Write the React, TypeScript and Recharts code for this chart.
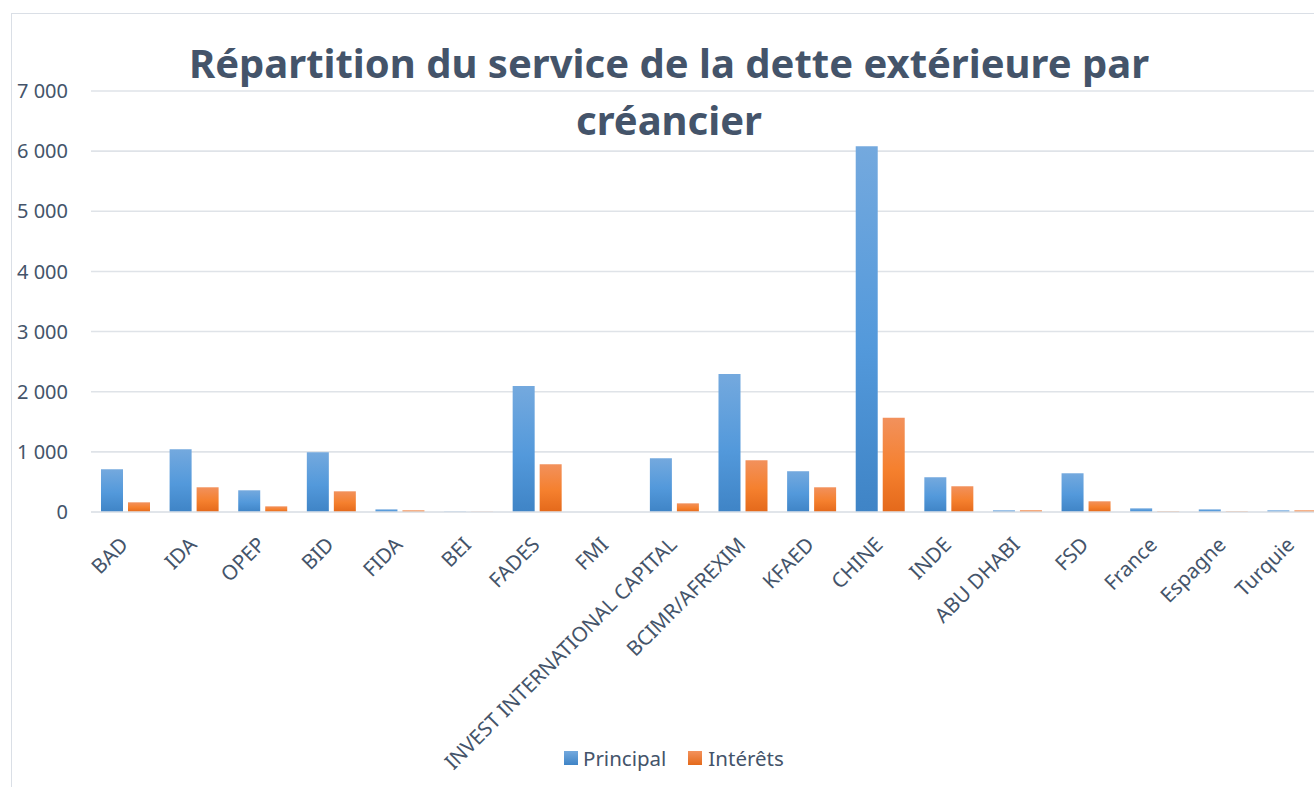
import React from "react";
import {
  BarChart,
  Bar,
  XAxis,
  YAxis,
  CartesianGrid,
  Legend,
} from "recharts";

const categories = [
  "BAD",
  "IDA",
  "OPEP",
  "BID",
  "FIDA",
  "BEI",
  "FADES",
  "FMI",
  "INVEST INTERNATIONAL CAPITAL",
  "BCIMR/AFREXIM",
  "KFAED",
  "CHINE",
  "INDE",
  "ABU DHABI",
  "FSD",
  "France",
  "Espagne",
  "Turquie",
];
const principal = [711, 1044, 361, 994, 44, 8, 2094, 0, 894, 2295, 678, 6080, 578, 28, 644, 61, 44, 28];
const interets = [161, 411, 94, 344, 28, 5, 794, 0, 144, 861, 411, 1567, 428, 28, 178, 11, 11, 28];
const yTicks = [0, 1000, 2000, 3000, 4000, 5000, 6000, 7000];

const data = categories.map((name, i) => ({
  name,
  principal: principal[i],
  interets: interets[i],
}));

const FONT = "'Noto Sans', 'Open Sans', sans-serif";
const TEXT = "#44546a";

const fmt = (v: number) => (v === 0 ? "0" : `${v / 1000} 000`);

const XTick = (props: any) => {
  const { x, y, payload } = props;
  const ax = x + 4;
  const ay = y + 34;
  return (
    <text
      x={ax}
      y={ay}
      transform={`rotate(-45, ${ax}, ${ay})`}
      textAnchor="end"
      fill={TEXT}
      fontSize={20.5}
      fontFamily={FONT}
    >
      {payload.value}
    </text>
  );
};

const LegendBox = () => (
  <div
    style={{
      display: "flex",
      alignItems: "center",
      fontFamily: FONT,
      fontSize: 20.5,
      color: TEXT,
    }}
  >
    <span style={{ width: 14, height: 14, background: "linear-gradient(#73a9de, #3f84c6)", marginRight: 5 }} />
    <span style={{ marginRight: 22 }}>Principal</span>
    <span style={{ width: 14, height: 14, background: "linear-gradient(#f3925d, #e46a1b)", marginRight: 6 }} />
    <span>Intérêts</span>
  </div>
);

export default function App() {
  return (
    <div
      style={{
        position: "absolute",
        left: 0,
        top: 0,
        width: 1314,
        height: 787,
        overflow: "hidden",
        background: "#fff",
      }}
    >
      <div
        style={{
          position: "absolute",
          left: 11,
          top: 13,
          width: 1400,
          height: 900,
          borderLeft: "1.5px solid #dadfe6",
          borderTop: "1.5px solid #dadfe6",
        }}
      />
      <BarChart
        width={1340}
        height={787}
        data={data}
        margin={{ top: 91, right: 14, left: 0, bottom: 0 }}
        barSize={22}
        barGap={5}
        style={{ position: "absolute", left: 0, top: 0 }}
      >
        <defs>
          <linearGradient id="gBlue" x1="0" y1="0" x2="0" y2="1">
            <stop offset="0%" stopColor="#74a9de" />
            <stop offset="55%" stopColor="#5399db" />
            <stop offset="100%" stopColor="#3f84c6" />
          </linearGradient>
          <linearGradient id="gOrange" x1="0" y1="0" x2="0" y2="1">
            <stop offset="0%" stopColor="#f2915c" />
            <stop offset="55%" stopColor="#f5802e" />
            <stop offset="100%" stopColor="#e4691b" />
          </linearGradient>
        </defs>
        <CartesianGrid vertical={false} stroke="#dfe3e8" strokeWidth={1.6} />
        <XAxis
          dataKey="name"
          interval={0}
          height={275}
          tick={<XTick />}
          tickLine={false}
          tickSize={0}
          tickMargin={0}
          axisLine={{ stroke: "#dfe3e8", strokeWidth: 1.6 }}
        />
        <YAxis
          width={91}
          domain={[0, 7000]}
          ticks={yTicks}
          tickFormatter={fmt}
          tickLine={false}
          axisLine={false}
          tickSize={0}
          tickMargin={23}
          tick={{ fill: TEXT, fontSize: 20, fontFamily: FONT }}
        />
        <Legend
          verticalAlign="middle"
          align="center"
          content={<LegendBox />}
          wrapperStyle={{ position: "absolute", top: 744, left: 564, width: 300 }}
        />
        <Bar dataKey="principal" name="Principal" fill="url(#gBlue)" isAnimationActive={false} />
        <Bar dataKey="interets" name="Intérêts" fill="url(#gOrange)" isAnimationActive={false} />
      </BarChart>
      <div
        style={{
          position: "absolute",
          left: 0,
          top: 0,
          width: 1338,
          textAlign: "center",
          fontFamily: FONT,
          fontWeight: 700,
          fontSize: 40,
          color: TEXT,
          pointerEvents: "none",
        }}
      >
        <div style={{ position: "absolute", left: 0, width: 1338, top: 78 - 40 * 1.07 }}>
          Répartition du service de la dette extérieure par
        </div>
        <div style={{ position: "absolute", left: 0, width: 1338, top: 135 - 40 * 1.07 }}>
          créancier
        </div>
      </div>
    </div>
  );
}
